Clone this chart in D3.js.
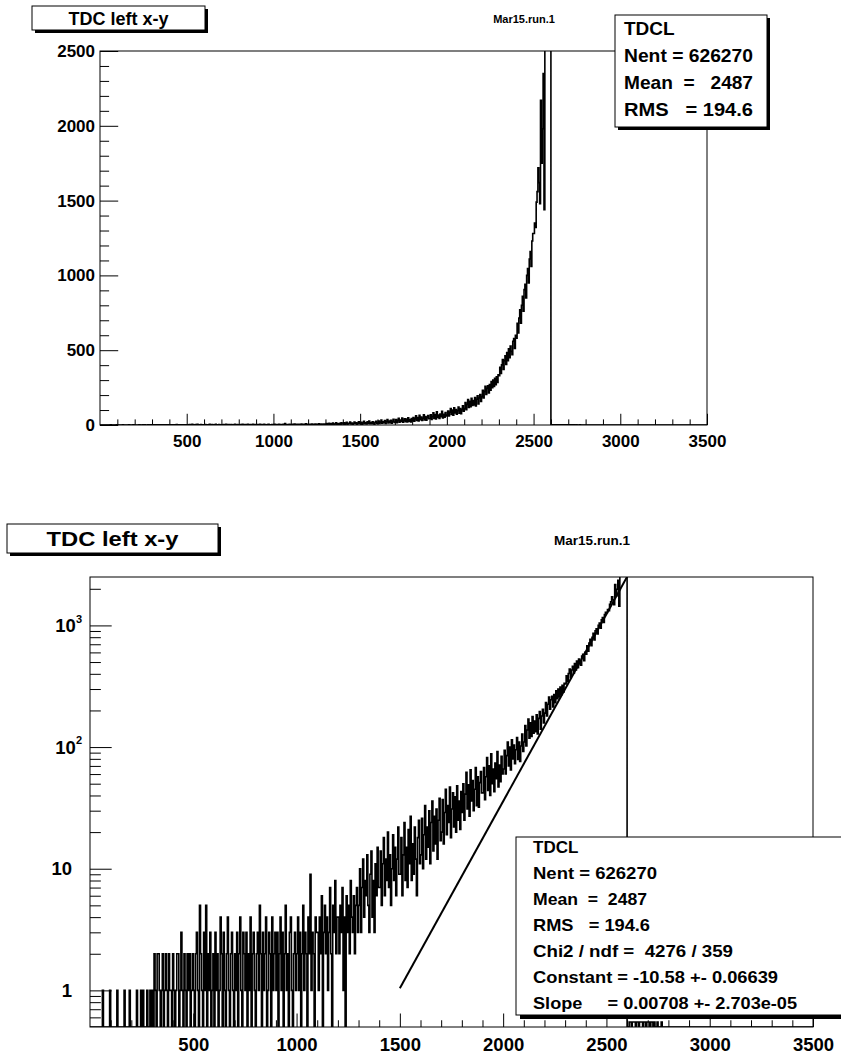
<!DOCTYPE html>
<html>
<head>
<meta charset="utf-8">
<script src="https://cdn.jsdelivr.net/npm/d3@7"></script>
<style>
  body { margin: 0; background: #fff; }
  text { font-family: "Liberation Sans", Arial, Helvetica, sans-serif; font-weight: bold; fill: #000; }
  .pre { white-space: pre; }
</style>
</head>
<body>
<svg id="chart" width="841" height="1058"></svg>
<script>
// ---- data ----
const histTitle = "TDC left x-y";
const runLabel = "Mar15.run.1";
const binWidth = 5;
// counts per 5-unit bin, one row per 100 units of TDC
const counts = [
  0,0,0,0,0,0,0,0,0,0,0,0,1,0,0,0,0,0,0,1,                 // 0
  0,0,0,0,0,0,1,0,0,0,0,0,0,1,0,0,0,0,1,0,                 // 100
  0,0,0,0,0,1,0,0,0,1,0,1,0,0,0,1,0,0,1,0,                 // 200
  1,0,2,1,0,2,2,1,0,1,2,0,1,2,1,0,2,1,1,0,                 // 300
  2,1,0,1,2,2,0,1,3,1,0,2,1,0,2,1,2,0,1,2,                 // 400
  1,0,2,3,1,0,5,2,1,0,3,1,5,0,2,1,3,0,1,2,                 // 500
  0,3,1,2,0,1,4,2,0,3,1,0,2,4,1,0,2,3,1,0,                 // 600
  2,1,3,0,2,4,1,0,3,2,1,3,0,2,1,4,0,2,3,1,                 // 700
  0,2,3,1,5,2,0,3,1,2,4,0,1,3,2,0,4,1,2,3,                 // 800
  1,3,0,2,4,1,3,0,2,5,1,2,0,3,4,1,0,2,3,1,                 // 900
  2,4,1,3,0,2,5,1,3,2,0,4,2,9,1,3,2,0,4,3,                 // 1000
  3,1,4,2,6,0,3,5,2,4,1,3,7,2,0,5,3,8,2,4,                 // 1100
  4,2,5,3,7,1,4,0,6,3,5,2,8,4,3,6,2,5,7,3,                 // 1200
  5,10,3,7,12,4,8,6,13,5,3,9,14,4,8,3,11,6,15,7,           // 1300
  7,14,5,11,18,6,12,8,20,7,13,5,10,19,8,15,6,12,22,9,      // 1400
  9,18,6,13,24,8,15,7,21,11,27,8,16,9,22,12,6,18,25,11,    // 1500
  13,26,10,19,33,12,22,15,30,11,24,36,14,27,16,31,12,25,38,17, // 1600
  20,37,16,29,45,19,33,24,47,18,31,42,22,39,20,48,25,36,21,43, // 1700
  29,50,25,41,62,31,49,27,65,36,53,30,45,68,33,57,32,51,63,42, // 1800
  42,68,37,57,82,44,70,40,88,50,66,43,74,55,92,47,71,52,84,60, // 1900
  66,94,60,85,110,70,100,65,115,80,104,73,95,120,79,110,76,102,128,92, // 2000
  110,150,102,138,170,118,158,122,178,130,164,134,184,128,172,196,140,180,204,158, // 2100
  190,232,180,225,258,205,245,262,214,270,232,290,250,300,258,312,270,322,284,335, // 2200
  330,385,345,402,438,372,430,462,405,485,430,510,450,528,492,470,560,578,512,600, // 2300
  580,680,615,715,770,680,800,860,760,905,940,850,1000,1045,950,1110,1160,1060,1230,1280, // 2400
  1280,1350,1320,1490,1560,1720,1620,1480,2170,1750,1980,2350,1440,3300,3200,3400,3100,3300,3250,3150, // 2500
  0,0,0.55,0.55,0,0.55,0.55,0.55,0,0.55,0.55,0,0.55,0.55,0.55,0,0.55,0.55,0,0.55, // 2600
  0.55,0.55,0,0.55,0.55,0,0.55,0,0,0.55,0,0,0,0.55,0,0,0,0,0,0, // 2700
  0,0,0,0,0,0,0,0,0,0,0,0,0,0,0,0,0,0,0,0,                 // 2800
  0,0,0,0,0,0,0,0,0,0,0,0,0,0,0,0,0,0,0,0,                 // 2900
  0,0,0,0,0,0,0,0,0,0,0,0,0,0,0,0,0,0,0,0,                 // 3000
  0,0,0,0,0,0,0,0,0,0,0,0,0,0,0,0,0,0,0,0,                 // 3100
  0,0,0,0,0,0,0,0,0,0,0,0,0,0,0,0,0,0,0,0,                 // 3200
  0,0,0,0,0,0,0,0,0,0,0,0,0,0,0,0,0,0,0,0,                 // 3300
  0,0,0,0,0,0,0,0,0,0,0,0,0,0,0,0,0,0,0,0                  // 3400
];
const xRange = [0, 3500];
const xMajor = [500, 1000, 1500, 2000, 2500, 3000, 3500];
const linRange = [0, 2500];
const linMajor = [0, 500, 1000, 1500, 2000, 2500];
const logRange = [0.5, 2500];
const logMajor = [1, 10, 100, 1000];
// expo fit on the log panel: end points of the drawn line
const fitX = [1500, 2600];
const fitY = [1.04, 2510];

const statsTop = ["TDCL", "Nent = 626270", "Mean  =   2487", "RMS   = 194.6"];
const statsBottom = [
  "TDCL",
  "Nent = 626270",
  "Mean  =  2487",
  "RMS   = 194.6",
  "Chi2 / ndf =  4276 / 359",
  "Constant = -10.58 +- 0.06639",
  "Slope     = 0.00708 +- 2.703e-05"
];

const svg = d3.select("#chart");

function shadowBox(x, y, w, h, sh) {
  svg.append("rect").attr("x", x + sh).attr("y", y + sh).attr("width", w).attr("height", h).attr("fill", "#000");
  svg.append("rect").attr("x", x).attr("y", y).attr("width", w).attr("height", h)
    .attr("fill", "#fff").attr("stroke", "#000").attr("stroke-width", 1);
}

function histPath(x, y, floor) {
  const pts = [[xRange[0], floor]];
  counts.forEach((c, i) => {
    const v = Math.max(c, floor);
    pts.push([i * binWidth, v], [(i + 1) * binWidth, v]);
  });
  pts.push([counts.length * binWidth, floor]);
  return d3.line().x(d => x(d[0])).y(d => y(d[1]))(pts);
}

function drawPanel(p) {
  const x = d3.scaleLinear().domain(xRange).range([p.left, p.right]);
  const y = p.log
    ? d3.scaleLog().domain(logRange).range([p.bottom, p.top])
    : d3.scaleLinear().domain(linRange).range([p.bottom, p.top]);
  const w = p.right - p.left, h = p.bottom - p.top;

  svg.append("clipPath").attr("id", p.id)
    .append("rect").attr("x", p.left).attr("y", p.top).attr("width", w).attr("height", h);

  // histogram
  svg.append("path")
    .attr("d", histPath(x, y, p.log ? logRange[0] : 0))
    .attr("fill", "none").attr("stroke", "#000").attr("stroke-width", p.histWidth)
    .attr("clip-path", `url(#${p.id})`);

  if (p.log) {
    svg.append("path")
      .attr("d", d3.line().x(d => x(d[0])).y(d => y(d[1]))(fitX.map((v, i) => [v, fitY[i]])))
      .attr("fill", "none").attr("stroke", "#000").attr("stroke-width", 2)
      .attr("clip-path", `url(#${p.id})`);
  }

  // frame
  svg.append("rect").attr("x", p.left).attr("y", p.top).attr("width", w).attr("height", h)
    .attr("fill", "none").attr("stroke", "#000").attr("stroke-width", 1);

  const xMajLen = 0.03 * h, yMajLen = 0.03 * w;
  const xMinor = d3.range(100, 3500, 100).filter(v => v % 500 !== 0);

  // x axis, ticks pointing into the frame
  const gx = svg.append("g").attr("transform", `translate(0,${p.bottom})`)
    .call(d3.axisBottom(x).tickValues(xMinor).tickSize(-xMajLen / 2).tickSizeOuter(0).tickFormat(""));
  gx.select(".domain").remove();
  const gx2 = svg.append("g").attr("transform", `translate(0,${p.bottom})`)
    .call(d3.axisBottom(x).tickValues(xMajor).tickSize(-xMajLen).tickSizeOuter(0)
      .tickPadding(p.xPad).tickFormat(d3.format("d")));
  gx2.select(".domain").remove();
  gx2.selectAll("text").attr("font-size", p.fs).attr("font-family", null);

  // y axis
  if (!p.log) {
    const yMinor = d3.range(100, 2500, 100).filter(v => v % 500 !== 0);
    const gy = svg.append("g").attr("transform", `translate(${p.left},0)`)
      .call(d3.axisLeft(y).tickValues(yMinor).tickSize(-yMajLen / 2).tickSizeOuter(0).tickFormat(""));
    gy.select(".domain").remove();
    const gy2 = svg.append("g").attr("transform", `translate(${p.left},0)`)
      .call(d3.axisLeft(y).tickValues(linMajor).tickSize(-yMajLen).tickSizeOuter(0)
        .tickPadding(p.yPad).tickFormat(d3.format("d")));
    gy2.select(".domain").remove();
    gy2.selectAll("text").attr("font-size", p.fs).attr("font-family", null);
  } else {
    const yMinor = y.ticks().filter(v => !logMajor.includes(v) && v > logRange[0]);
    const gy = svg.append("g").attr("transform", `translate(${p.left},0)`)
      .call(d3.axisLeft(y).tickValues(yMinor).tickSize(-yMajLen / 2).tickSizeOuter(0).tickFormat(""));
    gy.select(".domain").remove();
    const gy2 = svg.append("g").attr("transform", `translate(${p.left},0)`)
      .call(d3.axisLeft(y).tickValues(logMajor).tickSize(-yMajLen).tickSizeOuter(0).tickFormat(""));
    gy2.select(".domain").remove();
    logMajor.forEach(v => {
      const e = Math.round(Math.log10(v));
      const t = svg.append("text").attr("font-size", p.fs).attr("y", y(v)).attr("dy", "0.36em")
        .attr("text-anchor", "end");
      if (e < 2) {
        t.attr("x", p.left - 18).text(String(v));
      } else {
        t.attr("x", p.left - 8).text("10");
        t.append("tspan").attr("font-size", 11).attr("dy", "-0.85em").text(String(e));
      }
    });
  }
  svg.selectAll(".tick line").attr("stroke", "#000").attr("stroke-width", 1);
}

function statsText(rows, x, y0, step, fs, widths) {
  rows.forEach((s, i) => {
    const t = svg.append("text").attr("class", "pre").attr("x", x).attr("y", y0 + i * step)
      .attr("font-size", fs).text(s);
    if (widths[i]) t.attr("textLength", widths[i]).attr("lengthAdjust", "spacingAndGlyphs");
  });
}

// ---------- top panel (linear) ----------
drawPanel({ id: "clipTop", left: 100, right: 707, top: 51, bottom: 425, log: false,
  fs: 17, xPad: 10, yPad: 5, histWidth: 1.6 });

shadowBox(32, 6, 173, 24, 3);
svg.append("text").attr("x", 118.5).attr("y", 25).attr("text-anchor", "middle")
  .attr("font-size", 18).text(histTitle);
svg.append("text").attr("x", 524).attr("y", 23).attr("text-anchor", "middle")
  .attr("font-size", 11).text(runLabel);

shadowBox(615, 15, 152, 112, 3);
statsText(statsTop, 624, 35, 27, 19, [0, 129, 129, 129]);

// ---------- bottom panel (log) ----------
drawPanel({ id: "clipBottom", left: 90, right: 813, top: 577, bottom: 1027, log: true,
  fs: 18.5, xPad: 11, yPad: 18, histWidth: 1.6 });

shadowBox(7, 524, 211, 29, 3);
svg.append("text").attr("x", 112.5).attr("y", 546).attr("text-anchor", "middle")
  .attr("font-size", 20).attr("textLength", 132).attr("lengthAdjust", "spacingAndGlyphs").text(histTitle);
svg.append("text").attr("x", 592).attr("y", 545).attr("text-anchor", "middle")
  .attr("font-size", 13.5).text(runLabel);

shadowBox(516, 837, 340, 178, 4);
statsText(statsBottom, 533, 853, 26, 17, [0, 124, 114, 117, 200, 245, 264]);
</script>
</body>
</html>
